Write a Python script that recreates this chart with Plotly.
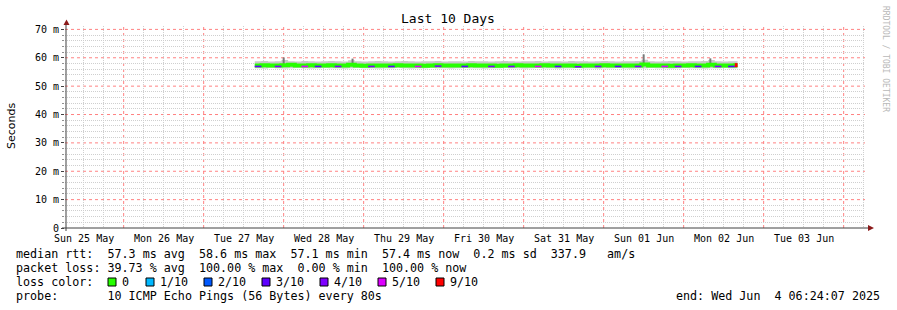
import plotly.graph_objects as go
import pandas as pd

# ---------------- data ----------------
sample_start = "2025-05-27 15:20"
sample_step = "2h"
sample_end = "2025-06-02 16:10"

median_ms = [57.3, 57.4, 57.3, 57.3, 57.4, 57.5, 57.3, 57.3, 57.4, 57.3,
             57.3, 57.4, 57.3, 57.3, 57.5, 57.3, 57.2, 57.3, 57.3, 57.3,
             57.3, 57.4, 57.3, 57.3, 57.3, 57.2, 57.3, 57.4, 57.3, 57.3,
             57.3, 57.3, 57.4, 57.3, 57.3, 57.3, 57.2, 57.3, 57.3, 57.4,
             57.3, 57.3, 57.3, 57.4, 57.3, 57.3, 57.3, 57.3, 57.2, 57.3,
             57.3, 57.3, 57.4, 57.3, 57.3, 57.3, 57.3, 57.3, 57.6, 57.3,
             57.3, 57.3, 57.2, 57.3, 57.3, 57.4, 57.3, 57.3, 57.5, 57.3,
             57.3, 57.3, 57.4]
smoke_lo_ms = [56.3, 56.2, 56.4, 56.3, 56.2, 56.3, 56.4, 56.3, 56.2, 56.3,
               56.4, 56.3, 56.3, 56.2, 56.3, 56.4, 56.3, 56.3, 56.2, 56.3,
               56.3, 56.4, 56.3, 56.2, 56.3, 56.3, 56.4, 56.3, 56.3, 56.2,
               56.3, 56.4, 56.3, 56.3, 56.2, 56.3, 56.3, 56.4, 56.3, 56.3,
               56.2, 56.3, 56.4, 56.3, 56.3, 56.2, 56.3, 56.3, 56.4, 56.3,
               56.3, 56.2, 56.3, 56.3, 56.4, 56.3, 56.2, 56.3, 56.3, 56.4,
               56.3, 56.3, 56.2, 56.3, 56.4, 56.3, 56.3, 56.2, 56.3, 56.3,
               56.4, 56.3, 56.3]
smoke_hi_ms = [58.8, 58.9, 58.7, 58.8, 59.2, 58.8, 58.7, 58.9, 58.8, 58.7,
               58.8, 58.9, 58.8, 58.7, 59.1, 58.8, 58.7, 58.8, 58.9, 58.8,
               58.7, 58.8, 58.9, 58.8, 58.7, 58.8, 58.8, 58.9, 58.7, 58.8,
               58.8, 58.7, 58.9, 58.8, 58.8, 58.7, 58.8, 58.9, 58.8, 58.7,
               58.8, 58.8, 58.9, 58.7, 58.8, 58.8, 58.7, 58.9, 58.8, 58.8,
               58.7, 58.8, 58.9, 58.8, 58.7, 58.8, 58.8, 58.9, 59.3, 58.8,
               58.7, 58.8, 58.9, 58.8, 58.7, 58.8, 58.8, 58.9, 59.2, 58.8,
               58.7, 58.8, 58.8]
loss_tenths = [3, 0, 0, 4, 0, 0, 0, 5, 0, 3,
               0, 0, 4, 0, 0, 0, 0, 4, 0, 0,
               3, 0, 0, 0, 5, 0, 0, 4, 0, 0,
               0, 3, 0, 0, 0, 4, 0, 0, 4, 0,
               0, 0, 5, 0, 0, 3, 0, 0, 4, 0,
               0, 4, 0, 0, 3, 0, 0, 4, 0, 0,
               0, 5, 0, 4, 0, 0, 3, 0, 0, 4,
               0, 3, 9]

spike_times = ["2025-05-28 00:00", "2025-05-28 20:40", "2025-06-01 12:00", "2025-06-02 08:00"]
spike_top_ms = [60.1, 59.7, 61.2, 59.8]

x_start = "2025-05-25 06:24:07"
x_end = "2025-06-04 06:24:07"
y_ticks = [0, 10, 20, 30, 40, 50, 60, 70]
y_tick_labels = ["0", "10 m", "20 m", "30 m", "40 m", "50 m", "60 m", "70 m"]
y_minor_ticks = [2, 4, 6, 8, 12, 14, 16, 18, 22, 24, 26, 28, 32, 34, 36, 38,
                 42, 44, 46, 48, 52, 54, 56, 58, 62, 64, 66, 68]
day_label_days = ["2025-05-25", "2025-05-26", "2025-05-27", "2025-05-28", "2025-05-29",
                  "2025-05-30", "2025-05-31", "2025-06-01", "2025-06-02", "2025-06-03"]
day_labels = ["Sun 25 May", "Mon 26 May", "Tue 27 May", "Wed 28 May", "Thu 29 May",
              "Fri 30 May", "Sat 31 May", "Sun 01 Jun", "Mon 02 Jun", "Tue 03 Jun"]
midnights = ["2025-05-26", "2025-05-27", "2025-05-28", "2025-05-29", "2025-05-30",
             "2025-05-31", "2025-06-01", "2025-06-02", "2025-06-03", "2025-06-04"]

loss_levels = [0, 1, 2, 3, 4, 5, 9]
loss_labels = ["0", "1/10", "2/10", "3/10", "4/10", "5/10", "9/10"]
loss_colors = ["#26ff00", "#00b8ff", "#0059ff", "#5e00ff", "#7e00ff", "#dd00ff", "#ff0000"]

legend_line1 = "median rtt:  57.3 ms avg  58.6 ms max  57.1 ms min  57.4 ms now  0.2 ms sd  337.9   am/s"
legend_line2 = "packet loss: 39.73 % avg  100.00 % max  0.00 % min  100.00 % now"
legend_line3 = "loss color:"
legend_line4 = "probe:       10 ICMP Echo Pings (56 Bytes) every 80s"
end_text = "end: Wed Jun  4 06:24:07 2025"
title_text = "Last 10 Days"
y_title = "Seconds"
watermark = "RRDTOOL / TOBI OETIKER"

# ---------------- layout constants (pixels) ----------------
W, H = 897, 310
L, R, T, B = 65, 32, 26, 82
PW, PH = W - L - R, H - T - B
MONO = "DejaVu Sans Mono"
PINK = "rgb(255,130,130)"
GREY = "#cfcfcf"


def px(xp):
    return (xp - L) / PW


def py(yp):
    return (H - B - yp) / PH


times = list(pd.date_range(sample_start, periods=len(median_ms), freq=sample_step))
edges = times + [pd.Timestamp(sample_end)]
x_minor = [t for t in pd.date_range("2025-05-25 12:00", "2025-06-04 06:00", freq="6h") if t.hour != 0]

fig = go.Figure()

# smoke band
fig.add_trace(go.Scatter(x=edges, y=smoke_lo_ms + [smoke_lo_ms[-1]], mode="lines",
                         line=dict(width=0, shape="hv", color="#cccccc"),
                         showlegend=False, hoverinfo="skip"))
fig.add_trace(go.Scatter(x=edges, y=smoke_hi_ms + [smoke_hi_ms[-1]], mode="lines",
                         line=dict(width=0, shape="hv", color="#cccccc"),
                         fill="tonexty", fillcolor="#c8c8c8",
                         showlegend=False, hoverinfo="skip"))

# spikes
sx, sy = [], []
for t, top in zip(spike_times, spike_top_ms):
    sx += [pd.Timestamp(t), pd.Timestamp(t), None]
    sy += [57.3, top, None]
fig.add_trace(go.Scatter(x=sx, y=sy, mode="lines", line=dict(width=2, color="#7a7a7a"),
                         showlegend=False, hoverinfo="skip"))

# median band (green)
fig.add_trace(go.Scatter(x=edges, y=median_ms + [median_ms[-1]], mode="lines",
                         line=dict(width=4, shape="hv", color=loss_colors[0]),
                         showlegend=False, hoverinfo="skip"))

# loss-coloured segments
for lvl, col in zip(loss_levels[1:], loss_colors[1:]):
    lx, ly = [], []
    for i, (m, lo) in enumerate(zip(median_ms, loss_tenths)):
        if lo == lvl:
            off = 0.35 if lvl < 9 else 0.0
            lx += [edges[i], edges[i + 1], None]
            ly += [m - off, m - off, None]
    if lx:
        fig.add_trace(go.Scatter(x=lx, y=ly, mode="lines",
                                 line=dict(width=1.6 if lvl < 9 else 4, color=col),
                                 showlegend=False, hoverinfo="skip"))

shapes = []
# vertical day lines (major grid)
for d in midnights:
    shapes.append(dict(type="line", xref="x", yref="paper", x0=d, x1=d, y0=0, y1=1,
                       line=dict(color=PINK, width=1, dash="dot"), layer="between"))
# horizontal major grid
for v in y_ticks[1:]:
    shapes.append(dict(type="line", xref="paper", yref="y", x0=0, x1=1, y0=v, y1=v,
                       line=dict(color=PINK, width=1, dash="dot"), layer="between"))
# axis lines + arrows
axis_col = "#404040"
arrow_col = "#8b1a1a"
shapes.append(dict(type="line", xref="paper", yref="paper", x0=px(62), x1=px(869), y0=0, y1=0,
                   line=dict(color=axis_col, width=1), layer="above"))
shapes.append(dict(type="line", xref="paper", yref="paper", x0=px(66), x1=px(66), y0=py(231), y1=py(23),
                   line=dict(color=axis_col, width=1), layer="above"))
shapes.append(dict(type="path", xref="paper", yref="paper",
                   path=f"M {px(868)} {py(225)} L {px(874)} {py(228)} L {px(868)} {py(231)} Z",
                   fillcolor=arrow_col, line=dict(color=arrow_col, width=0), layer="above"))
shapes.append(dict(type="path", xref="paper", yref="paper",
                   path=f"M {px(63.5)} {py(25)} L {px(66.5)} {py(19.5)} L {px(69.5)} {py(25)} Z",
                   fillcolor=arrow_col, line=dict(color=arrow_col, width=0), layer="above"))

annotations = []
# day labels at noon
for d, lab in zip(day_label_days, day_labels):
    annotations.append(dict(text=lab, xref="x", yref="paper",
                            x=pd.Timestamp(d) + pd.Timedelta(hours=12), y=py(238),
                            xanchor="center", yanchor="middle", showarrow=False, borderpad=0,
                            font=dict(family=MONO, size=10, color="black")))
# title
annotations.append(dict(text=title_text, xref="paper", yref="paper", x=px(448), y=py(19),
                        xanchor="center", yanchor="middle", showarrow=False,
                        font=dict(family=MONO, size=13, color="black")))
# y title
annotations.append(dict(text=y_title, xref="paper", yref="paper", x=px(11), y=py(126),
                        xanchor="center", yanchor="middle", showarrow=False, textangle=-90,
                        font=dict(family="DejaVu Sans", size=11, color="black")))
# watermark
annotations.append(dict(text=watermark, xref="paper", yref="paper", x=px(886), y=py(59),
                        xanchor="center", yanchor="middle", showarrow=False, textangle=90,
                        font=dict(family=MONO, size=8, color="#b8b8b8")))
# legend lines
LEG = 11.7
for txt, ypos in [(legend_line1, 254), (legend_line2, 268), (legend_line3, 282), (legend_line4, 296)]:
    annotations.append(dict(text=txt.replace(" ", "&nbsp;"), xref="paper", yref="paper",
                            x=px(15), y=py(ypos), xanchor="left", yanchor="middle",
                            showarrow=False, borderpad=0,
                            font=dict(family=MONO, size=LEG, color="black")))
annotations.append(dict(text=end_text.replace(" ", "&nbsp;"), xref="paper", yref="paper",
                        x=px(881), y=py(296), xanchor="right", yanchor="middle",
                        showarrow=False, borderpad=0,
                        font=dict(family=MONO, size=LEG, color="black")))
# loss colour swatches
sw_left = [108, 146, 204, 262, 320, 378, 436]
for lx0, lab, col in zip(sw_left, loss_labels, loss_colors):
    shapes.append(dict(type="rect", xref="paper", yref="paper",
                       x0=px(lx0), x1=px(lx0 + 8), y0=py(286), y1=py(278),
                       fillcolor=col, line=dict(color="black", width=1), layer="above"))
    annotations.append(dict(text=lab, xref="paper", yref="paper", x=px(lx0 + 13), y=py(282),
                            xanchor="left", yanchor="middle", showarrow=False, borderpad=0,
                            font=dict(family=MONO, size=LEG, color="black")))

fig.update_layout(
    width=W, height=H,
    margin=dict(l=L, r=R, t=T, b=B, pad=0),
    paper_bgcolor="white", plot_bgcolor="white",
    showlegend=False,
    shapes=shapes,
    annotations=annotations,
    xaxis=dict(type="date", range=[x_start, x_end],
               tickmode="array", tickvals=x_minor, showticklabels=False,
               showgrid=True, gridcolor=GREY, griddash="1px,1px", gridwidth=1,
               zeroline=False, showline=False, ticks=""),
    yaxis=dict(range=[0, 71.2], tickmode="array", tickvals=y_ticks, ticktext=y_tick_labels,
               showgrid=False,
               zeroline=False, showline=False,
               ticks="outside", ticklen=3, tickcolor=axis_col,
               tickfont=dict(family=MONO, size=10, color="black"),
               minor=dict(tickmode="array", tickvals=y_minor_ticks, showgrid=True, gridcolor=GREY,
                          griddash="1px,1px", ticks="outside", ticklen=2, tickcolor="#909090")),
)

fig.write_html("out.html")
